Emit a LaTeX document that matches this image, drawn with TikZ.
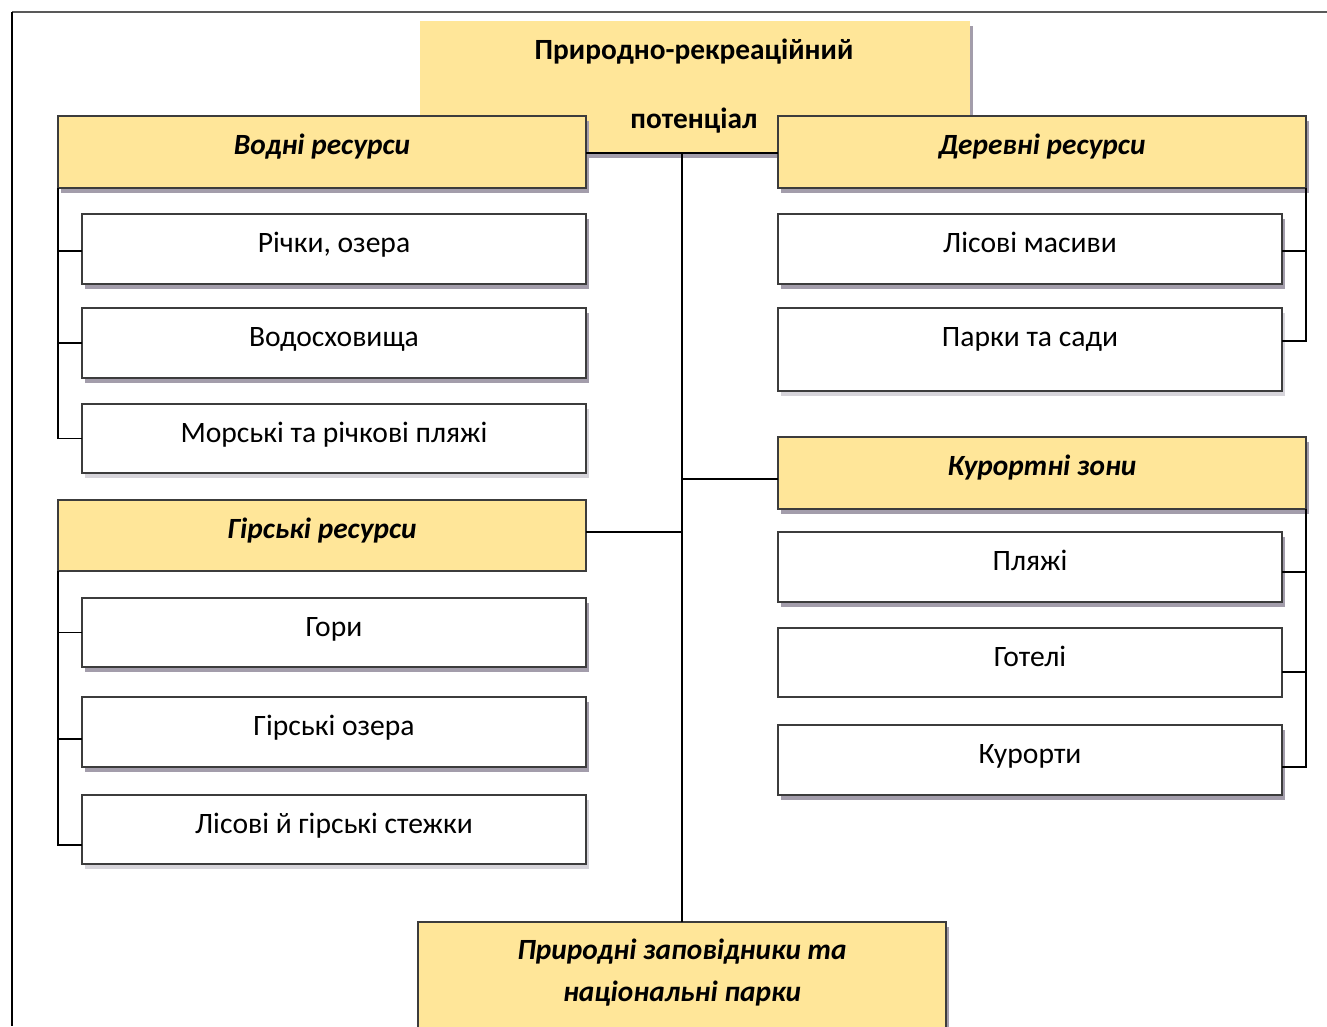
\documentclass[tikz,border=0pt]{standalone}
\usepackage{fontspec}
\setmainfont{Carlito}
\usetikzlibrary{shadows}
\definecolor{gold}{HTML}{FFE699}
\definecolor{shd}{HTML}{A39DAB}
\definecolor{shl}{HTML}{D6D4DA}
\definecolor{edge}{HTML}{3C3C3C}
\tikzset{
  box/.style={draw=edge, line width=0.8pt, fill=white, anchor=north west, inner sep=0pt, outer sep=0pt},
  sz/.style 2 args={minimum width={#1*0.75pt}, minimum height={#2*0.75pt}},
  hdr/.style={box, fill=gold},
  sh/.style={general shadow={fill=shd, shadow xshift=2.5pt, shadow yshift=-3.5pt}},
  shlight/.style={general shadow={fill=shl, shadow xshift=2.5pt, shadow yshift=-3.5pt}},
  txt/.style={anchor=base, inner sep=0pt, font=\fontsize{22.2}{26}\selectfont},
  htxt/.style={anchor=base, inner sep=0pt, font=\fontsize{22}{26}\selectfont\bfseries\itshape},
  rtxt/.style={anchor=base, inner sep=0pt, font=\fontsize{22}{26}\selectfont\bfseries},
  conn/.style={line width=1.4pt, black},
}
\begin{document}
\begin{tikzpicture}[x=0.75pt,y=-0.75pt]
\useasboundingbox (0,0) rectangle (1327,1026);
\fill[white] (0,0) rectangle (1327,1026);
\draw[gray!70!black, line width=1pt] (12,12) -- (1327,12);
\draw[black, line width=1pt] (12,12) -- (12,1026);

% root
\node[box, draw=none, fill=gold, sz={550}{132}, sh] (root) at (420,21) {};
\node[rtxt] (roott1) at (694,59) {Природно-рекреаційний};
\node[rtxt] (roott2) at (694,128) {потенціал};

% headers
\node[hdr, sz={528}{72}, sh] (vodni) at (58,116) {};
\node[htxt] (vodnit) at (322,154) {Водні ресурси};
\node[hdr, sz={528}{72}, sh] (derevni) at (778,116) {};
\node[htxt] (derevnit) at (1042,154) {Деревні ресурси};
\node[hdr, sz={528}{71}] (hirski) at (58,500) {};
\node[htxt] (hirskit) at (322,538) {Гірські ресурси};
\node[hdr, sz={528}{72}, sh] (kurort) at (778,437) {};
\node[htxt] (kurortt) at (1042,475) {Курортні зони};
\node[hdr, sz={528}{120}, sh] (zapov) at (418,922) {};
\node[htxt] (zapovt1) at (682,959) {Природні заповідники та};
\node[htxt] (zapovt2) at (682,1001) {національні парки};

% left children
\node[box, sz={504}{70}, sh] (rich) at (82,214) {};
\node[txt] (richt) at (334,252) {Річки, озера};
\node[box, sz={504}{70}, sh] (vodos) at (82,308) {};
\node[txt] (vodost) at (334,346) {Водосховища};
\node[box, sz={504}{69}, shlight] (mors) at (82,404) {};
\node[txt] (morst) at (334,442) {Морські та річкові пляжі};
\node[box, sz={504}{69}, sh] (hory) at (82,598) {};
\node[txt] (horyt) at (334,636) {Гори};
\node[box, sz={504}{70}, sh] (hozera) at (82,697) {};
\node[txt] (hozerat) at (334,735) {Гірські озера};
\node[box, sz={504}{69}, shlight] (stezh) at (82,795) {};
\node[txt] (stezht) at (334,833) {Лісові й гірські стежки};

% right children
\node[box, sz={504}{70}, sh] (lismas) at (778,214) {};
\node[txt] (lismast) at (1030,252) {Лісові масиви};
\node[box, sz={504}{83}, shlight] (parky) at (778,308) {};
\node[txt] (parkyt) at (1030,346) {Парки та сади};
\node[box, sz={504}{70}, sh] (plyazh) at (778,532) {};
\node[txt] (plyazht) at (1030,570) {Пляжі};
\node[box, sz={504}{69}] (hoteli) at (778,628) {};
\node[txt] (hotelit) at (1030,666) {Готелі};
\node[box, sz={504}{70}, sh] (kurorty) at (778,725) {};
\node[txt] (kurortyt) at (1030,763) {Курорти};

% connectors
\draw[conn] (vodni.east |- root.south) -- (derevni.west |- root.south);
\draw[conn] (root.south -| zapov.north) -- (zapov.north);
\draw[conn] ([yshift=-4.5pt]kurort.west) -- ([yshift=-4.5pt]kurort.west -| zapov.north);
\draw[conn] ([yshift=2.6pt]hirski.east) -- ([yshift=2.6pt]hirski.east -| zapov.north);

\draw[conn] (vodni.south west) |- ([yshift=-1.5pt]rich.west);
\draw[conn] (vodni.south west) |- (vodos.west);
\draw[conn] (vodni.south west) |- (mors.west);
\draw[conn] (hirski.south west) |- (hory.west);
\draw[conn] (hirski.south west) |- ([yshift=-5.25pt]hozera.west);
\draw[conn] (hirski.south west) |- ([yshift=-11.6pt]stezh.west);
\draw[conn] (derevni.south east) |- ([yshift=-1.5pt]lismas.east);
\draw[conn] (derevni.south east) |- ([yshift=6.4pt]parky.east);
\draw[conn] (kurort.south east) |- ([yshift=-3.75pt]plyazh.east);
\draw[conn] (kurort.south east) |- ([yshift=-7.1pt]hoteli.east);
\draw[conn] (kurort.south east) |- ([yshift=-5.25pt]kurorty.east);
\end{tikzpicture}
\end{document}
